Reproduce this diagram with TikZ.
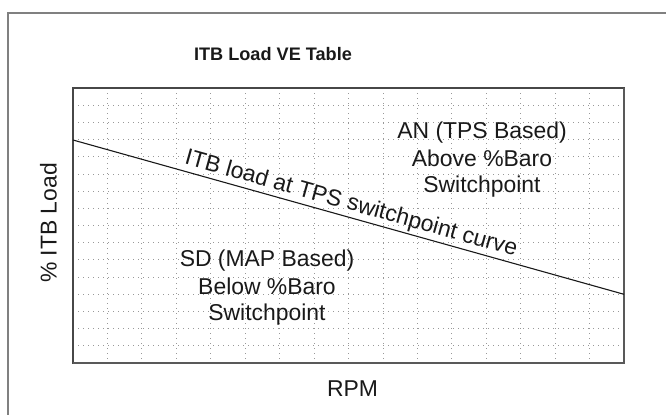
\documentclass[tikz,border=0pt]{standalone}
\usepackage{fontspec}
\setmainfont{Liberation Sans}
\begin{document}
\begin{tikzpicture}[x=1bp,y=1bp,
  frameline/.style={draw=black!50,line width=2bp},
  plotbox/.style={draw=black!72,line width=1.4bp},
  gridline/.style={draw=black!40,line width=0.8bp,dash pattern=on 0.9bp off 4.1bp},
  curveline/.style={draw=black!90,line width=1.1bp},
  lbl/.style={inner sep=0pt,font=\fontsize{23}{27}\selectfont,text=black!90},
  ttl/.style={inner sep=0pt,font=\fontsize{18.2}{21}\selectfont\bfseries,text=black!90}]
\useasboundingbox (0,0) rectangle (666,414);
% outer frame (cropped at right and bottom)
\draw[frameline] (8,-6) -- (8,401) -- (672,401);
% grid
\foreach \i in {1,...,15}{
  \draw[gridline] ({73+\i*551/16},326) -- ({73+\i*551/16},51);
  \draw[gridline] (73,{326-\i*275/16}) -- (624,{326-\i*275/16});
}
% plot frame
\draw[plotbox] (73,51) rectangle (624,326);
\draw[draw=black!65,line width=2bp] (73,51) -- (624,51) -- (624,326);
% switchpoint curve
\coordinate (cs) at (73,274);
\coordinate (ce) at (624,119.7);
\draw[curveline] (cs) -- (ce);
% texts
\node[ttl,anchor=base] (title) at (273,354) {ITB Load VE Table};
\node[lbl,anchor=base] (xlab) at (352.5,17.3) {RPM};
\node[lbl,anchor=base,rotate=90] (ylab) at (56.7,191) {\% ITB Load};
\node[lbl,anchor=base,rotate=-15.62] (clab) at (349.5,204) {ITB load at TPS switchpoint curve};
\node[lbl,anchor=base] (an1) at (482,275.7) {AN (TPS Based)};
\node[lbl,anchor=base] (an2) at (482,248) {Above \%Baro};
\node[lbl,anchor=base] (an3) at (482,221.3) {Switchpoint};
\node[lbl,anchor=base] (sd1) at (267,147.3) {SD (MAP Based)};
\node[lbl,anchor=base] (sd2) at (267,119.7) {Below \%Baro};
\node[lbl,anchor=base] (sd3) at (267,94) {Switchpoint};
\end{tikzpicture}
\end{document}
